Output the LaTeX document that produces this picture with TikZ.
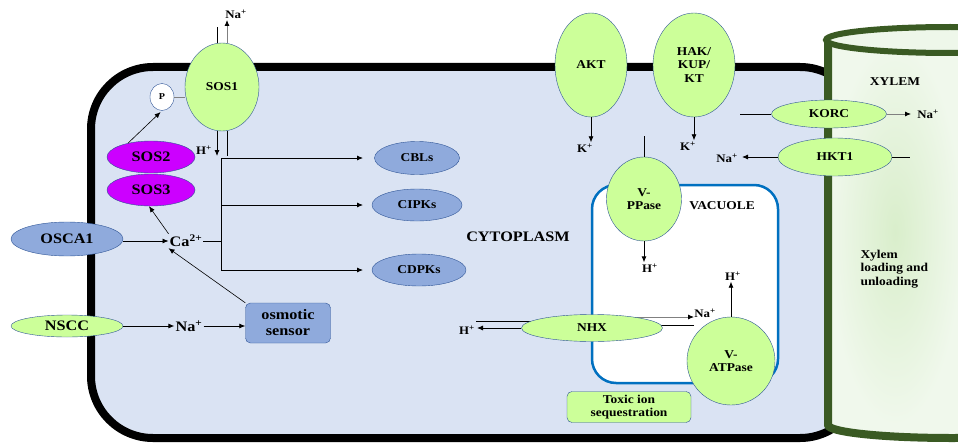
\documentclass[tikz,border=0pt]{standalone}
\usepackage{fontspec}
\setmainfont{Liberation Serif}[FakeStretch=1.12]
\usetikzlibrary{arrows.meta,shapes.geometric}

\definecolor{cellblue}{HTML}{DAE3F3}
\definecolor{chgreen}{HTML}{CCFF99}
\definecolor{chblue}{HTML}{8FAADC}
\definecolor{chedge}{HTML}{2F5597}
\definecolor{sospurple}{HTML}{CC00FF}
\definecolor{vacedge}{HTML}{0070C0}
\definecolor{xyedge}{HTML}{3A5A23}
\definecolor{xyin}{HTML}{D9EECB}
\definecolor{xyout}{HTML}{F0F8EC}
\definecolor{xytop}{HTML}{EEF7EA}

\pgfdeclarelayer{back}
\pgfdeclarelayer{mid}
\pgfsetlayers{back,mid,main}

\begin{document}
\begin{tikzpicture}[x=1pt,y=-1pt,
    >={Latex[length=6pt,width=5pt]},
    every node/.style = {font=\bfseries\fontsize{12}{13.5}\selectfont},
    chan/.style = {
      draw = chedge,
      fill = chgreen,
      ellipse,
      inner sep = 0pt,
      align = center
    },
    kin/.style = {chan, fill=chblue},
    big/.style = {font=\bfseries\fontsize{14.5}{16}\selectfont},
    sos/.style = {chan, big, fill=sospurple},
    ion/.style = {font=\bfseries\fontsize{11.5}{13}\selectfont, inner sep=1pt},
    box/.style = {draw=chedge, rounded corners=5pt, align=center, inner sep=0pt},
    flow/.style = {->, line width=0.8pt},
    grayflow/.style = {-{Latex[length=6pt,width=5pt,color=black]}, draw=gray, line width=0.8pt}
  ]
  \useasboundingbox (0,0) rectangle (958,444);
  \clip (0,0) rectangle (958,444);

  \begin{pgfonlayer}{back}
    \draw[line width=8pt, fill=cellblue, rounded corners=62pt] (91,67) rectangle (862,438);
    \fill[xyout] (950,425) ellipse [x radius=124pt, y radius=13pt];
    \shade[inner color=xyin, outer color=xyout] (828,40) rectangle (962,425);
    \draw[line width=8pt, xyedge] (828,40) -- (828,425)
      arc [start angle=180, end angle=360, x radius=124pt, y radius=13pt];
    \draw[line width=6pt, xyedge, fill=xytop] (950,40) ellipse [x radius=124pt, y radius=13pt];
    \draw[line width=2.5pt, vacedge, fill=white, rounded corners=24pt] (592,185) rectangle (778,383);
  \end{pgfonlayer}

  \node[chan, minimum width=74pt, minimum height=88pt] (sos1) at (222,87) {SOS1};
  \node[chan, fill=white, minimum width=24pt, minimum height=27pt,
    font=\bfseries\fontsize{9}{10}\selectfont] (pp) at (162,97) {P};
  \node[sos, minimum width=88pt, minimum height=32pt] (sos2) at (151,157) {SOS2};
  \node[sos, minimum width=88pt, minimum height=32pt] (sos3) at (151,190) {SOS3};
  \node[kin, big, minimum width=112pt, minimum height=34pt] (osca) at (67,239) {OSCA1};
  \node[chan, big, minimum width=112pt, minimum height=22pt] (nscc) at (67,326) {NSCC};
  \node[big, inner sep=1pt] (ca) at (186,241) {Ca\textsuperscript{2+}};
  \node[big, inner sep=1pt] (nain) at (189,326) {Na\textsuperscript{+}};
  \node[box, big, fill=chblue, minimum width=85pt, minimum height=40pt] (sensor) at (288,323) {osmotic\\sensor};
  \node[ion] (nasos) at (236,14) {Na\textsuperscript{+}};
  \node[ion] (hsos) at (204,150) {H\textsuperscript{+}};

  \node[kin, minimum width=85pt, minimum height=33pt] (cbl) at (417,158) {CBLs};
  \node[kin, minimum width=90pt, minimum height=32pt] (cipk) at (417,205) {CIPKs};
  \node[kin, minimum width=94pt, minimum height=32pt] (cdpk) at (419,270) {CDPKs};
  \node[big] (cyto) at (518,237) {CYTOPLASM};

  \node[chan, minimum width=72pt, minimum height=104pt] (akt) at (591,65) {AKT};
  \node[chan, minimum width=82pt, minimum height=104pt] (hak) at (694,65) {HAK/\\KUP/\\KT};
  \node[ion] (kakt) at (585,148) {K\textsuperscript{+}};
  \node[ion] (khak) at (688,146) {K\textsuperscript{+}};

  \node[chan, minimum width=115pt, minimum height=28pt] (korc) at (829,114) {KORC};
  \node[chan, minimum width=114pt, minimum height=38pt] (hkt) at (835,157) {HKT1};
  \node[ion] (nakorc) at (928,114) {Na\textsuperscript{+}};
  \node[ion] (nahkt) at (727,158) {Na\textsuperscript{+}};
  \node (xyl) at (895,82) {XYLEM};
  \node[align=left, anchor=west] (xload) at (857,269) {Xylem\\loading and\\unloading};

  \node[chan, minimum width=75pt, minimum height=84pt] (vpp) at (644,199) {V-\\PPase};
  \node[ion] (hvpp) at (650,268) {H\textsuperscript{+}};
  \node (vac) at (722,206) {VACUOLE};
  \node[chan, minimum width=141pt, minimum height=27pt] (nhx) at (592,328) {NHX};
  \node[chan, minimum width=88pt, minimum height=88pt] (vat) at (731,361) {V-\\ATPase};
  \node[ion] (hvat) at (733,276) {H\textsuperscript{+}};
  \node[ion] (navac) at (705,313) {Na\textsuperscript{+}};
  \node[ion] (hnhx) at (467,330) {H\textsuperscript{+}};
  \node[box, fill=chgreen, minimum width=124pt, minimum height=31pt] (toxic) at (629,407) {Toxic ion\\sequestration};

  \coordinate (s1a) at (217,27);
  \coordinate (s1b) at (227,20);
  \coordinate (s1c) at (217,156);
  \coordinate (s1d) at (227,156);
  \coordinate (trunk) at (221,158);
  \coordinate (tips) at (363,0);
  \coordinate (korcin) at (740,114);
  \coordinate (korcout) at (911,114);
  \coordinate (hktin) at (910,157);
  \coordinate (hktout) at (742,157);
  \coordinate (vpptop) at (644,136);
  \coordinate (nhxa) at (476,321);
  \coordinate (nhxb) at (694,317);
  \coordinate (nhxc) at (694,325);
  \coordinate (nhxd) at (477,328);

  \draw[line width=0.8pt] (sos1.north -| s1a) -- (s1a);
  \draw[grayflow] (sos1.north -| s1b) -- (s1b);
  \draw[flow] (sos1.south -| s1c) -- (s1c);
  \draw[line width=0.8pt] (sos1.south -| s1d) -- (s1d);
  \draw[gray, line width=0.8pt] (pp.east) -- (pp.east -| sos1.west);
  \draw[flow, line width=0.6pt, shorten >=2pt] (sos2.149) -- (pp.south);
  \draw[flow, line width=0.6pt] (ca.north west) -- (sos3.263);
  \draw[flow] (osca.east |- ca) -- (ca.west);
  \draw[flow] (nscc.east) -- (nain.west);
  \draw[flow] (nain.east) -- (nain.east -| sensor.west);
  \draw[flow, line width=0.6pt] (sensor.north west) -- (ca.south west);

  \draw[line width=0.8pt] (ca.east) -- (ca.east -| trunk);
  \draw[line width=0.8pt] (trunk) -- (trunk |- cdpk);
  \foreach \k in {cbl,cipk,cdpk}
    \draw[flow] (trunk |- \k) -- (tips |- \k);

  \draw[flow] (akt.south) -- (akt.south |- kakt.north);
  \draw[flow] (hak.south) -- (hak.south |- khak.north);
  \draw[line width=0.8pt] (korcin) -- (korc.west);
  \draw[grayflow] (korc.east) -- (korcout);
  \draw[line width=0.8pt] (hkt.east) -- (hktin);
  \draw[flow] (hkt.west) -- (hktout);

  \draw[line width=0.8pt] (vpp.north) -- (vpptop);
  \draw[flow] (vpp.south) -- (vpp.south |- hvpp.north);
  \draw[flow] (vat.north) -- (vat.north |- hvat.south);
  \draw[flow] (nhx.west) -- (nhxd);
  \begin{pgfonlayer}{mid}
    \draw[line width=0.8pt] (nhxa) -- (nhxa -| nhx.center);
    \draw[grayflow] (nhxb -| nhx.center) -- (nhxb);
    \draw[line width=0.8pt] (nhxc) -- (nhxc -| nhx.center);
  \end{pgfonlayer}
\end{tikzpicture}
\end{document}
